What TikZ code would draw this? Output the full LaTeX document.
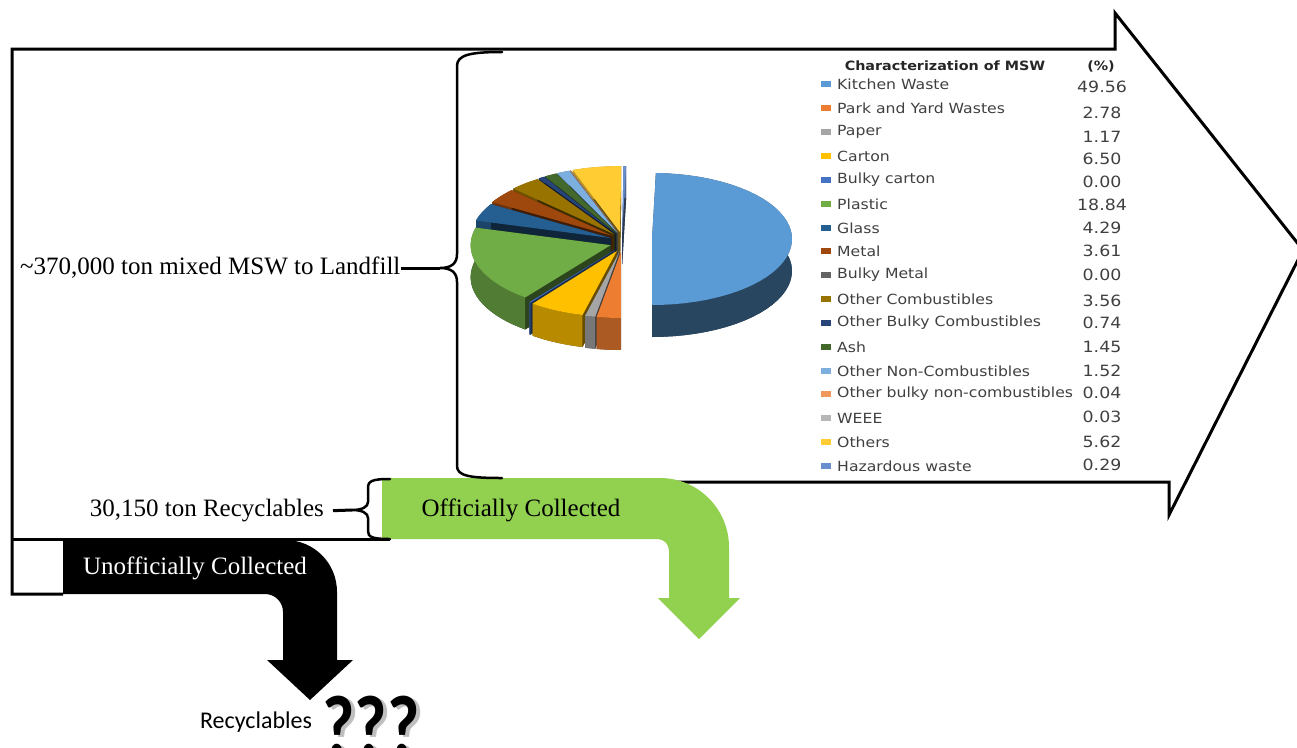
\documentclass[tikz,border=0pt]{standalone}
\usepackage{fontspec}
\setmainfont{Liberation Serif}
\newfontfamily\chartfont[FakeStretch=1.12]{DejaVu Sans}
\newfontfamily\calibrifont{Carlito}
\definecolor{legendgray}{HTML}{404040}
\definecolor{officialgreen}{HTML}{92D050}
\definecolor{c1}{HTML}{5B9BD5}
\definecolor{c2}{HTML}{ED7D31}
\definecolor{c3}{HTML}{A5A5A5}
\definecolor{c4}{HTML}{FFC000}
\definecolor{c5}{HTML}{4472C4}
\definecolor{c6}{HTML}{70AD47}
\definecolor{c7}{HTML}{255E91}
\definecolor{c8}{HTML}{9E480E}
\definecolor{c9}{HTML}{636363}
\definecolor{c10}{HTML}{997300}
\definecolor{c11}{HTML}{264478}
\definecolor{c12}{HTML}{43682B}
\definecolor{c13}{HTML}{7CAFDD}
\definecolor{c14}{HTML}{F1975A}
\definecolor{c15}{HTML}{B7B7B7}
\definecolor{c16}{HTML}{FFCD33}
\definecolor{c17}{HTML}{698ED0}
\tikzset{
  flowline/.style={line width=3pt, line join=miter},
  bracepath/.style={line width=2.5pt, line cap=round},
  flowtext/.style={font=\fontsize{25}{30}\selectfont, inner sep=0pt},
  legendlabel/.style={font=\chartfont\fontsize{14}{16}\selectfont, text=legendgray, anchor=west, inner sep=0pt},
  legendvalue/.style={font=\chartfont\fontsize{15.5}{18}\selectfont, text=legendgray, inner sep=0pt},
}
\begin{document}
\begin{tikzpicture}[x=1pt,y=-1pt]
\useasboundingbox (0,0) rectangle (1297,747);
\clip (0,0) rectangle (1297,747);
\pgfmathsetmacro\rx{140};
\pgfmathsetmacro\ry{66};
\pgfmathsetmacro\dep{32};
\draw[flowline] (675,482) -- (1169,482) -- (1169,515) -- (1303,250) -- (1115,13) -- (1115,49) -- (12,49) -- (12,594) -- (63,594);
\draw[flowline] (12,539) -- (390,539);
\fill[officialgreen] (382,478) -- (660,478) .. controls (698,478) and (729,509) .. (729,547) -- (729,598) -- (740,598) -- (699,639) -- (658,598) -- (669,598) -- (669,551) .. controls (669,544) and (664,539) .. (657,539) -- (382,539) -- cycle;
\fill[black] (63,540) -- (285,540) .. controls (314,540) and (337,563) .. (337,592) -- (337,660) -- (353,660) -- (310,700) -- (267,660) -- (283,660) -- (283,612) .. controls (283,602) and (275,594) .. (265,594) -- (63,594) -- cycle;
\coordinate (lftop) at (502,52);
\coordinate (lftip) at (440,268);
\coordinate (lfbot) at (502,478);
\coordinate (rctop) at (390,479);
\coordinate (rctip) at (352,510);
\coordinate (rcbot) at (390,539);
\draw[bracepath] (lftop) .. controls (470,52) and (457,55) .. (457,66) -- (457,254) .. controls (457,263) and (452,268) .. (lftip) .. controls (452,268) and (457,273) .. (457,282) -- (457,466) .. controls (457,476) and (470,478) .. (lfbot);
\draw[bracepath] (rctop) .. controls (372,479) and (368,481) .. (368,488) -- (368,502) .. controls (368,507) and (362,510) .. (rctip) .. controls (362,510) and (368,513) .. (368,518) -- (368,531) .. controls (368,537) and (372,539) .. (rcbot);
\node[flowtext, anchor=west] (landfill) at (20,268) {\textasciitilde370,000 ton mixed MSW to Landfill};
\node[flowtext, anchor=east] (recyc) at (324,511) {30,150 ton Recyclables};
\node[flowtext] (official) at (521,510) {Officially Collected};
\node[flowtext, text=white] (unofficial) at (195,568) {Unofficially Collected};
\draw[line width=3pt] (landfill.east) -- (lftip);
\draw[line width=3pt, shorten <=9pt] (recyc.east) -- (rctip);
\node[font=\calibrifont\fontsize{24}{28}\selectfont, inner sep=0pt] (recq) at (256,722) {Recyclables};
\node[font=\calibrifont\bfseries\fontsize{70}{70}\selectfont, inner sep=0pt, anchor=north west, text=black!25] (qshadow) at (326,698) {\scalebox{1}[1.25]{???}};
\node[font=\calibrifont\bfseries\fontsize{70}{70}\selectfont, inner sep=0pt, anchor=north west] (qmarks) at (322,696) {\scalebox{1}[1.25]{???}};
\foreach \a/\b/\e/\i in {-88.4/90/24/1}
{
\pgfmathsetmacro\cx{628+\e};
\pgfmathsetmacro\cy{239};
\fill[c\i!45!black] (\cx,\cy+\dep) -- plot[domain=0:1,samples=40] ({\cx+\rx*cos(\a+(\b-\a)*\x)},{\cy+\dep+\ry*sin(\a+(\b-\a)*\x)}) -- cycle;
\fill[c\i!45!black] plot[domain=0:1,samples=40] ({\cx+\rx*cos(\a+(\b-\a)*\x)},{\cy+\ry*sin(\a+(\b-\a)*\x)}) -- plot[domain=0:1,samples=40] ({\cx+\rx*cos(\b+(\a-\b)*\x)},{\cy+\dep+\ry*sin(\b+(\a-\b)*\x)}) -- cycle;
\fill[c\i!45!black] (\cx,\cy) -- ({\cx+\rx*cos(\a)},{\cy+\ry*sin(\a)}) -- ++(0,\dep) -- (\cx,\cy+\dep) -- cycle;
\fill[c\i!45!black] (\cx,\cy) -- ({\cx+\rx*cos(\b)},{\cy+\ry*sin(\b)}) -- ++(0,\dep) -- (\cx,\cy+\dep) -- cycle;
\fill[c\i] (\cx,\cy) -- plot[domain=0:1,samples=40] ({\cx+\rx*cos(\a+(\b-\a)*\x)},{\cy+\ry*sin(\a+(\b-\a)*\x)}) -- cycle;
}
\foreach \a/\b/\i in {270.5/271.6/17, 250.3/270.5/16, 250.2/250.3/15, 250.0/250.2/14, 244.6/250.0/13, 239.4/244.6/12, 236.7/239.4/11, 223.9/236.7/10, 210.9/223.9/8, 195.4/210.9/7, 127.6/195.4/6, 127.0/127.6/5, 104.2/127.0/4, 100.0/104.2/3, 90/100.0/2}
{
\pgfmathsetmacro\m{(\a+\b)/2};
\pgfmathsetmacro\cx{622+12*cos(\m)};
\pgfmathsetmacro\cy{242+10*sin(\m)};
\fill[c\i!40!black] (\cx,\cy+\dep) -- plot[domain=0:1,samples=20] ({\cx+\rx*cos(\a+(\b-\a)*\x)},{\cy+\dep+\ry*sin(\a+(\b-\a)*\x)}) -- cycle;
\fill[c\i!40!black] (\cx,\cy) -- ({\cx+\rx*cos(\a)},{\cy+\ry*sin(\a)}) -- ++(0,\dep) -- (\cx,\cy+\dep) -- cycle;
\fill[c\i!40!black] (\cx,\cy) -- ({\cx+\rx*cos(\b)},{\cy+\ry*sin(\b)}) -- ++(0,\dep) -- (\cx,\cy+\dep) -- cycle;
\fill[c\i!72!black] plot[domain=0:1,samples=20] ({\cx+\rx*cos(\a+(\b-\a)*\x)},{\cy+\ry*sin(\a+(\b-\a)*\x)}) -- plot[domain=0:1,samples=20] ({\cx+\rx*cos(\b+(\a-\b)*\x)},{\cy+\dep+\ry*sin(\b+(\a-\b)*\x)}) -- cycle;
\fill[c\i] (\cx,\cy) -- plot[domain=0:1,samples=20] ({\cx+\rx*cos(\a+(\b-\a)*\x)},{\cy+\ry*sin(\a+(\b-\a)*\x)}) -- cycle;
}
\node[font=\chartfont\bfseries\fontsize{12.8}{16}\selectfont, text=black!85, inner sep=0pt] (head) at (945,66) {Characterization of MSW};
\node[font=\chartfont\bfseries\fontsize{12.8}{16}\selectfont, text=black!85, inner sep=0pt] (pct) at (1101,66) {(\%)};
\foreach \i/\t/\y/\v/\vy in {1/Kitchen Waste/84/49.56/87, 2/Park and Yard Wastes/108/2.78/113, 3/Paper/132/1.17/137, 4/Carton/156/6.50/159, 5/Bulky carton/180/0.00/182, 6/Plastic/204/18.84/205, 7/Glass/228/4.29/228, 8/Metal/251/3.61/251, 9/Bulky Metal/275/0.00/275, 10/Other Combustibles/299/3.56/301, 11/Other Bulky Combustibles/323/0.74/323, 12/Ash/347/1.45/347, 13/Other Non-Combustibles/371/1.52/371, 14/Other bulky non-combustibles/394/0.04/393, 15/WEEE/418/0.03/417, 16/Others/442/5.62/442, 17/Hazardous waste/466/0.29/465}
{
\node[legendlabel] (lab\i) at (837,\y) {\t};
\fill[c\i] (lab\i.west) ++(-16,-3) rectangle ++(10,6);
\node[legendvalue] (val\i) at (1102,\vy) {\v};
}
\end{tikzpicture}
\end{document}
